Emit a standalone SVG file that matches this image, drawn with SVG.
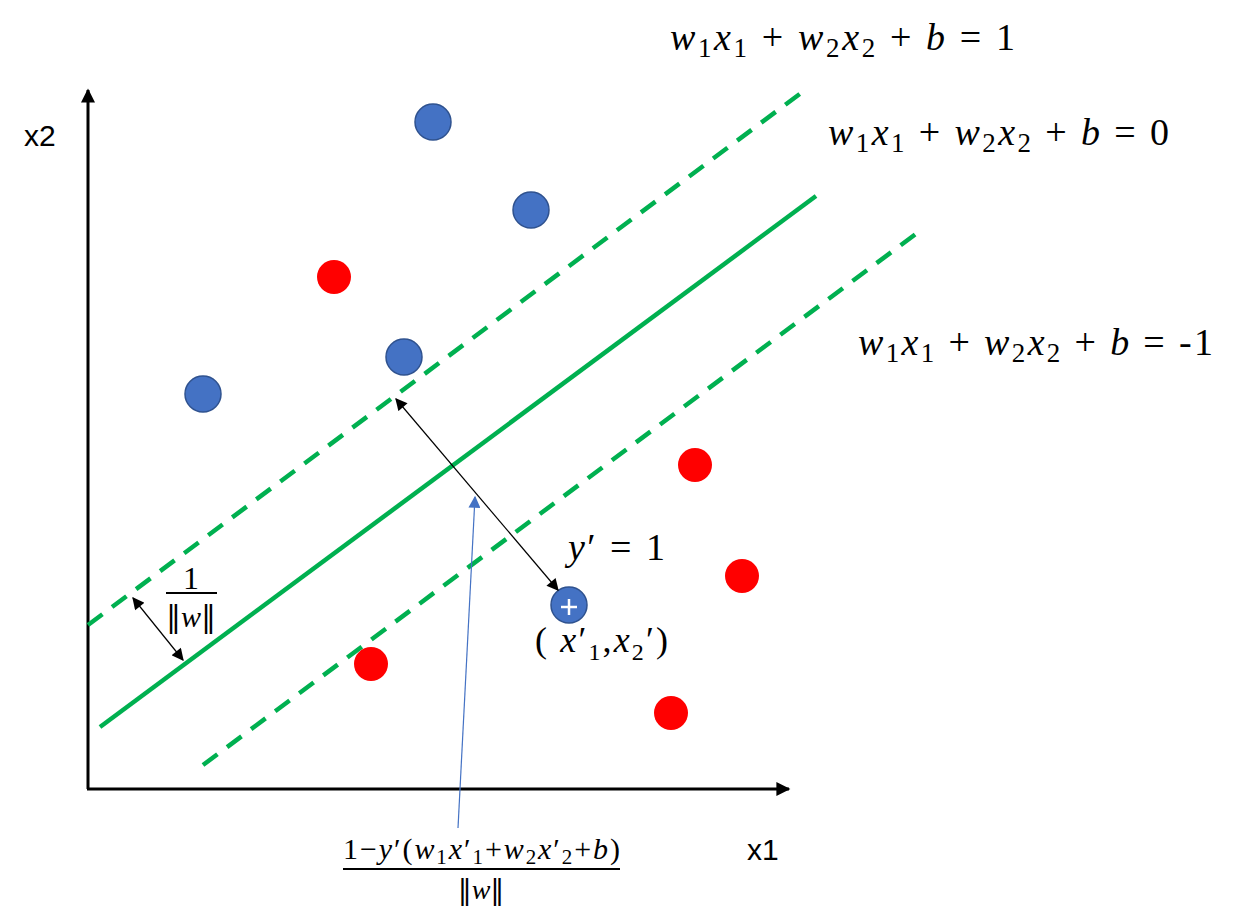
<svg xmlns="http://www.w3.org/2000/svg" width="1252" height="916" viewBox="0 0 1252 916">
<defs>
<marker id="ahAxis" viewBox="0 0 10 10" refX="9" refY="5" markerWidth="16" markerHeight="14" orient="auto" markerUnits="userSpaceOnUse"><path d="M0,0 L10,5 L0,10 z" fill="#000"/></marker>
<marker id="ahSmall" viewBox="0 0 10 10" refX="9" refY="5" markerWidth="14" markerHeight="12" orient="auto-start-reverse" markerUnits="userSpaceOnUse"><path d="M0,0 L10,5 L0,10 z" fill="#000"/></marker>
<marker id="ahBlue" viewBox="0 0 10 10" refX="9" refY="5" markerWidth="14" markerHeight="12" orient="auto" markerUnits="userSpaceOnUse"><path d="M0,0 L10,5 L0,10 z" fill="#4472C4"/></marker>
<style>
.axis{stroke:#000;stroke-width:3;fill:none}
.solid{stroke:#00B050;stroke-width:4.5;fill:none}
.dash{stroke:#00B050;stroke-width:4.5;fill:none;stroke-dasharray:18 12}
.blue{fill:#4472C4;stroke:#2F528F;stroke-width:1.5}
.red{fill:#FF0000}
.lbl{font-family:"Liberation Sans",Arial,sans-serif;font-size:30px;fill:#000}
.math{font-family:"Liberation Serif","DejaVu Serif",serif;fill:#000}
.it{font-style:italic}
.nrm{font-family:"DejaVu Serif",serif}
</style>
</defs>
<g id="axes">
<line class="axis" x1="88" y1="789" x2="88" y2="90" marker-end="url(#ahAxis)"/>
<line class="axis" x1="87" y1="789" x2="789" y2="789" marker-end="url(#ahAxis)"/>
</g>
<g id="lines">
<line class="dash" x1="88" y1="625" x2="805" y2="90"/>
<line class="solid" x1="100" y1="727" x2="816" y2="196"/>
<line class="dash" x1="203" y1="765" x2="917" y2="233"/>
</g>
<g id="points">
<circle class="blue" cx="433" cy="122" r="18"/>
<circle class="blue" cx="531" cy="210" r="18"/>
<circle class="blue" cx="404" cy="357" r="18"/>
<circle class="blue" cx="203" cy="394" r="18"/>
<circle class="red" cx="334" cy="277" r="17"/>
<circle class="red" cx="695" cy="465" r="17"/>
<circle class="red" cx="742" cy="576" r="17"/>
<circle class="red" cx="371" cy="664" r="17"/>
<circle class="red" cx="671" cy="713" r="17"/>
</g>
<g id="point-xprime">
<circle class="blue" cx="569" cy="605" r="18"/>
<path d="M561,607 H577 M569,599 V615" stroke="#fff" stroke-width="2.5"/>
</g>
<g id="connectors">
<line x1="396" y1="399" x2="558" y2="590" stroke="#000" stroke-width="1.2" marker-start="url(#ahSmall)" marker-end="url(#ahSmall)"/>
<line x1="133" y1="598" x2="183" y2="660" stroke="#000" stroke-width="1.2" marker-start="url(#ahSmall)" marker-end="url(#ahSmall)"/>
<line x1="458" y1="828" x2="475" y2="497" stroke="#4472C4" stroke-width="1.2" marker-end="url(#ahBlue)"/>
</g>
<g id="labels">
<text class="lbl" x="24" y="146">x2</text>
<text class="lbl" x="747" y="860">x1</text>
<text class="math" x="670" y="50" font-size="38" textLength="345" lengthAdjust="spacing"><tspan class="it">w</tspan><tspan font-size="27" dy="7">1</tspan><tspan class="it" dy="-7">x</tspan><tspan font-size="27" dy="7">1</tspan><tspan dy="-7"> + </tspan><tspan class="it">w</tspan><tspan font-size="27" dy="7">2</tspan><tspan class="it" dy="-7">x</tspan><tspan font-size="27" dy="7">2</tspan><tspan dy="-7"> + </tspan><tspan class="it">b</tspan><tspan> =  1</tspan></text>
<text class="math" x="828" y="145" font-size="38" textLength="341" lengthAdjust="spacing"><tspan class="it">w</tspan><tspan font-size="27" dy="7">1</tspan><tspan class="it" dy="-7">x</tspan><tspan font-size="27" dy="7">1</tspan><tspan dy="-7"> + </tspan><tspan class="it">w</tspan><tspan font-size="27" dy="7">2</tspan><tspan class="it" dy="-7">x</tspan><tspan font-size="27" dy="7">2</tspan><tspan dy="-7"> + </tspan><tspan class="it">b</tspan><tspan> =  0</tspan></text>
<text class="math" x="858" y="355" font-size="38" textLength="355" lengthAdjust="spacing"><tspan class="it">w</tspan><tspan font-size="27" dy="7">1</tspan><tspan class="it" dy="-7">x</tspan><tspan font-size="27" dy="7">1</tspan><tspan dy="-7"> + </tspan><tspan class="it">w</tspan><tspan font-size="27" dy="7">2</tspan><tspan class="it" dy="-7">x</tspan><tspan font-size="27" dy="7">2</tspan><tspan dy="-7"> + </tspan><tspan class="it">b</tspan><tspan> =  -1</tspan></text>
<text class="math" x="568" y="560" font-size="38" textLength="97" lengthAdjust="spacing"><tspan class="it">y</tspan><tspan>′ = 1</tspan></text>
<text class="math" x="535" y="652" font-size="36" textLength="133" lengthAdjust="spacing"><tspan>( </tspan><tspan class="it">x</tspan><tspan>′</tspan><tspan font-size="24" dy="8">1</tspan><tspan dy="-8">,</tspan><tspan class="it">x</tspan><tspan font-size="24" dy="8">2</tspan><tspan dy="-8">′)</tspan></text>
<text class="math" x="191" y="589" font-size="32" text-anchor="middle">1</text>
<line x1="166" y1="593" x2="217" y2="593" stroke="#000" stroke-width="1.8"/>
<text class="math" x="191" y="627" font-size="30" text-anchor="middle"><tspan class="nrm">‖</tspan><tspan class="it">w</tspan><tspan class="nrm">‖</tspan></text>
<text class="math" x="343" y="859" font-size="30" textLength="277" lengthAdjust="spacing"><tspan>1−</tspan><tspan class="it">y</tspan><tspan>′(</tspan><tspan class="it">w</tspan><tspan font-size="21" dy="5">1</tspan><tspan class="it" dy="-5">x</tspan><tspan>′</tspan><tspan font-size="21" dy="5">1</tspan><tspan dy="-5">+</tspan><tspan class="it">w</tspan><tspan font-size="21" dy="5">2</tspan><tspan class="it" dy="-5">x</tspan><tspan>′</tspan><tspan font-size="21" dy="5">2</tspan><tspan dy="-5">+</tspan><tspan class="it">b</tspan><tspan>)</tspan></text>
<line x1="343" y1="869" x2="620" y2="869" stroke="#000" stroke-width="1.8"/>
<text class="math" x="481" y="899" font-size="28" text-anchor="middle"><tspan class="nrm">‖</tspan><tspan class="it">w</tspan><tspan class="nrm">‖</tspan></text>
</g>
</svg>
